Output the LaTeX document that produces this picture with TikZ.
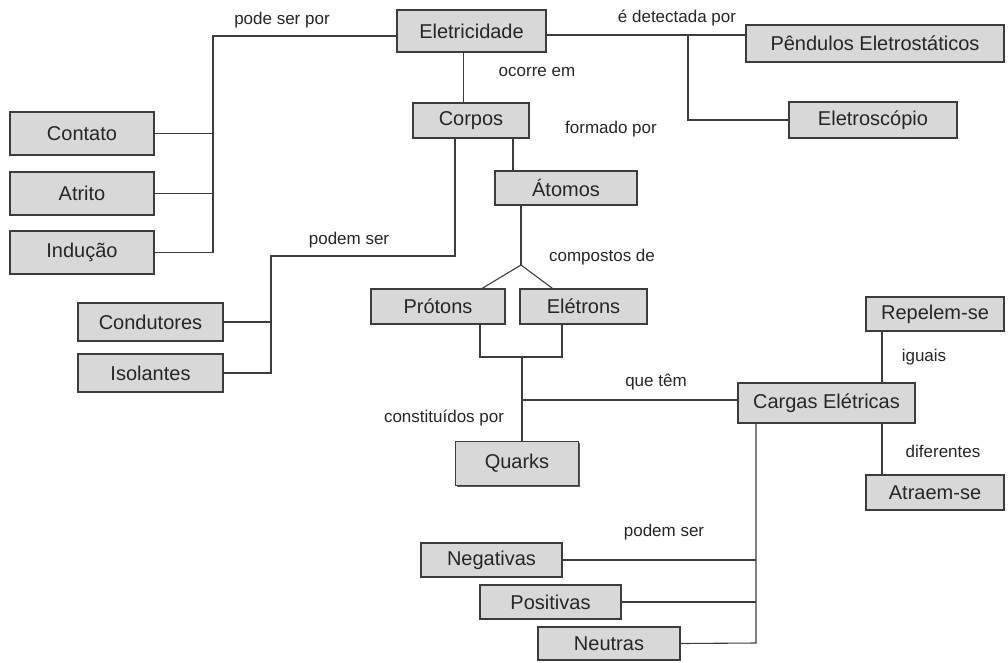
\documentclass[tikz,border=0pt]{standalone}
\usepackage{fontspec}
\setmainfont{Liberation Sans}
\usetikzlibrary{shadows}
\definecolor{boxfill}{HTML}{D8D8D8}
\definecolor{edge}{HTML}{3C3C3C}
\definecolor{ink}{HTML}{262626}
\begin{document}
\begin{tikzpicture}[x=1pt,y=-1pt,
  concept/.style={draw=edge, line width=1.1pt, fill=boxfill, text=ink,
    font=\fontsize{20}{24}\selectfont, inner sep=0pt,
    drop shadow={shadow xshift=1.2pt, shadow yshift=-1.2pt, fill=edge, opacity=0.85}},
  cbox/.style 2 args={concept, minimum width=#1pt, minimum height=#2pt},
  link/.style={draw=edge, line width=1.1pt},
  lbl/.style={font=\fontsize{17}{20}\selectfont, text=ink, inner sep=0pt}]
\useasboundingbox[fill=white] (0,0) rectangle (1008,662);

% concepts
\node[cbox={149}{42}] (elet) at (471.5,31)  {Eletricidade};
\node[cbox={258}{37}] (pend) at (875,43.5)  {Pêndulos Eletrostáticos};
\node[cbox={168}{36}] (escp) at (873,120)   {Eletroscópio};
\node[cbox={116}{35}] (corp) at (471,120.5) {Corpos};
\node[cbox={142}{34}] (atom) at (566,188)   {Átomos};
\node[cbox={144}{43}] (cont) at (82,133.5)  {Contato};
\node[cbox={144}{43}] (atri) at (82,193.5)  {Atrito};
\node[cbox={144}{43}] (indu) at (82,252.5)  {Indução};
\node[cbox={145}{38}] (cond) at (150.5,322) {Condutores};
\node[cbox={145}{38}] (isol) at (150.5,373) {Isolantes};
\node[cbox={134}{35}] (prot) at (438,306.5) {Prótons};
\node[cbox={127}{35}] (elec) at (583.5,306.5) {Elétrons};
\node[cbox={123}{44}] (quar) at (517,463.5) {Quarks};
\node[cbox={177}{40}] (carg) at (826.5,403) {Cargas Elétricas};
\node[cbox={138}{34}] (rep)  at (935,314)   {Repelem-se};
\node[cbox={138}{35}] (atra) at (935,492.5) {Atraem-se};
\node[cbox={141}{34}] (nega) at (491.5,560) {Negativas};
\node[cbox={141}{34}] (posi) at (550.5,602) {Positivas};
\node[cbox={142}{33}] (neut) at (609,643.5) {Neutras};

% junction points
\coordinate (jl) at (213,36);
\coordinate (jr) at (688,35);
\coordinate (jc) at (271,256);
\coordinate (apex) at (521,265);
\coordinate (join) at (522,357);
\coordinate (jq) at (522,400);
\coordinate (jn) at (756,643);

% Eletricidade: pode ser por
\draw[link] (elet.west |- jl) -- (jl) |- (indu.east);
\draw[link] (cont.east) -- (cont.east -| jl);
\draw[link] (atri.east) -- (atri.east -| jl);

% Eletricidade: é detectada por
\draw[link] (elet.east |- jr) -- (pend.west |- jr);
\draw[link] (jr) |- (escp.west);

% Eletricidade: ocorre em
\draw[link] ([xshift=-8pt]elet.south) -- ([xshift=-8pt]elet.south |- corp.north);

% Corpos: formado por
\draw[link] ([xshift=42pt]corp.south) -- ([xshift=42pt]corp.south |- atom.north);

% Corpos: podem ser
\draw[link] ([xshift=-16pt]corp.south) |- (jc) |- (isol.east);
\draw[link] (cond.east) -- (cond.east -| jc);

% Átomos: compostos de
\draw[link] (atom.south -| apex) -- (apex);
\draw[link] (apex) -- ([xshift=44pt]prot.north);
\draw[link] (apex) -- ([xshift=-31pt]elec.north);

% Prótons and Elétrons: constituídos por / que têm
\draw[link] ([xshift=42pt]prot.south) |- (join) -| ([xshift=-21.5pt]elec.south);
\draw[link] (join) -- (join |- quar.north);
\draw[link] (jq) -- (carg.west |- jq);

% Cargas Elétricas: iguais / diferentes
\draw[link] ([xshift=-53pt]rep.south) -- ([xshift=-53pt]rep.south |- carg.north);
\draw[link] ([xshift=-53pt]atra.north) -- ([xshift=-53pt]atra.north |- carg.south);

% Cargas Elétricas: podem ser
\draw[link] (carg.south -| jn) -- (jn) -- (neut.east);
\draw[link] (nega.east) -- (nega.east -| jn);
\draw[link] (posi.east) -- (posi.east -| jn);

% link phrases
\node[lbl] (l1)  at (282,20)  {pode ser por};
\node[lbl] (l2)  at (677,18)  {é detectada por};
\node[lbl] (l3)  at (537,72)  {ocorre em};
\node[lbl] (l4)  at (611,129) {formado por};
\node[lbl] (l5)  at (349,240) {podem ser};
\node[lbl] (l6)  at (602,257) {compostos de};
\node[lbl] (l7)  at (656,382) {que têm};
\node[lbl] (l8)  at (444,418) {constituídos por};
\node[lbl] (l9)  at (924,357) {iguais};
\node[lbl] (l10) at (943,451) {diferentes};
\node[lbl] (l11) at (664,532) {podem ser};
\end{tikzpicture}
\end{document}
